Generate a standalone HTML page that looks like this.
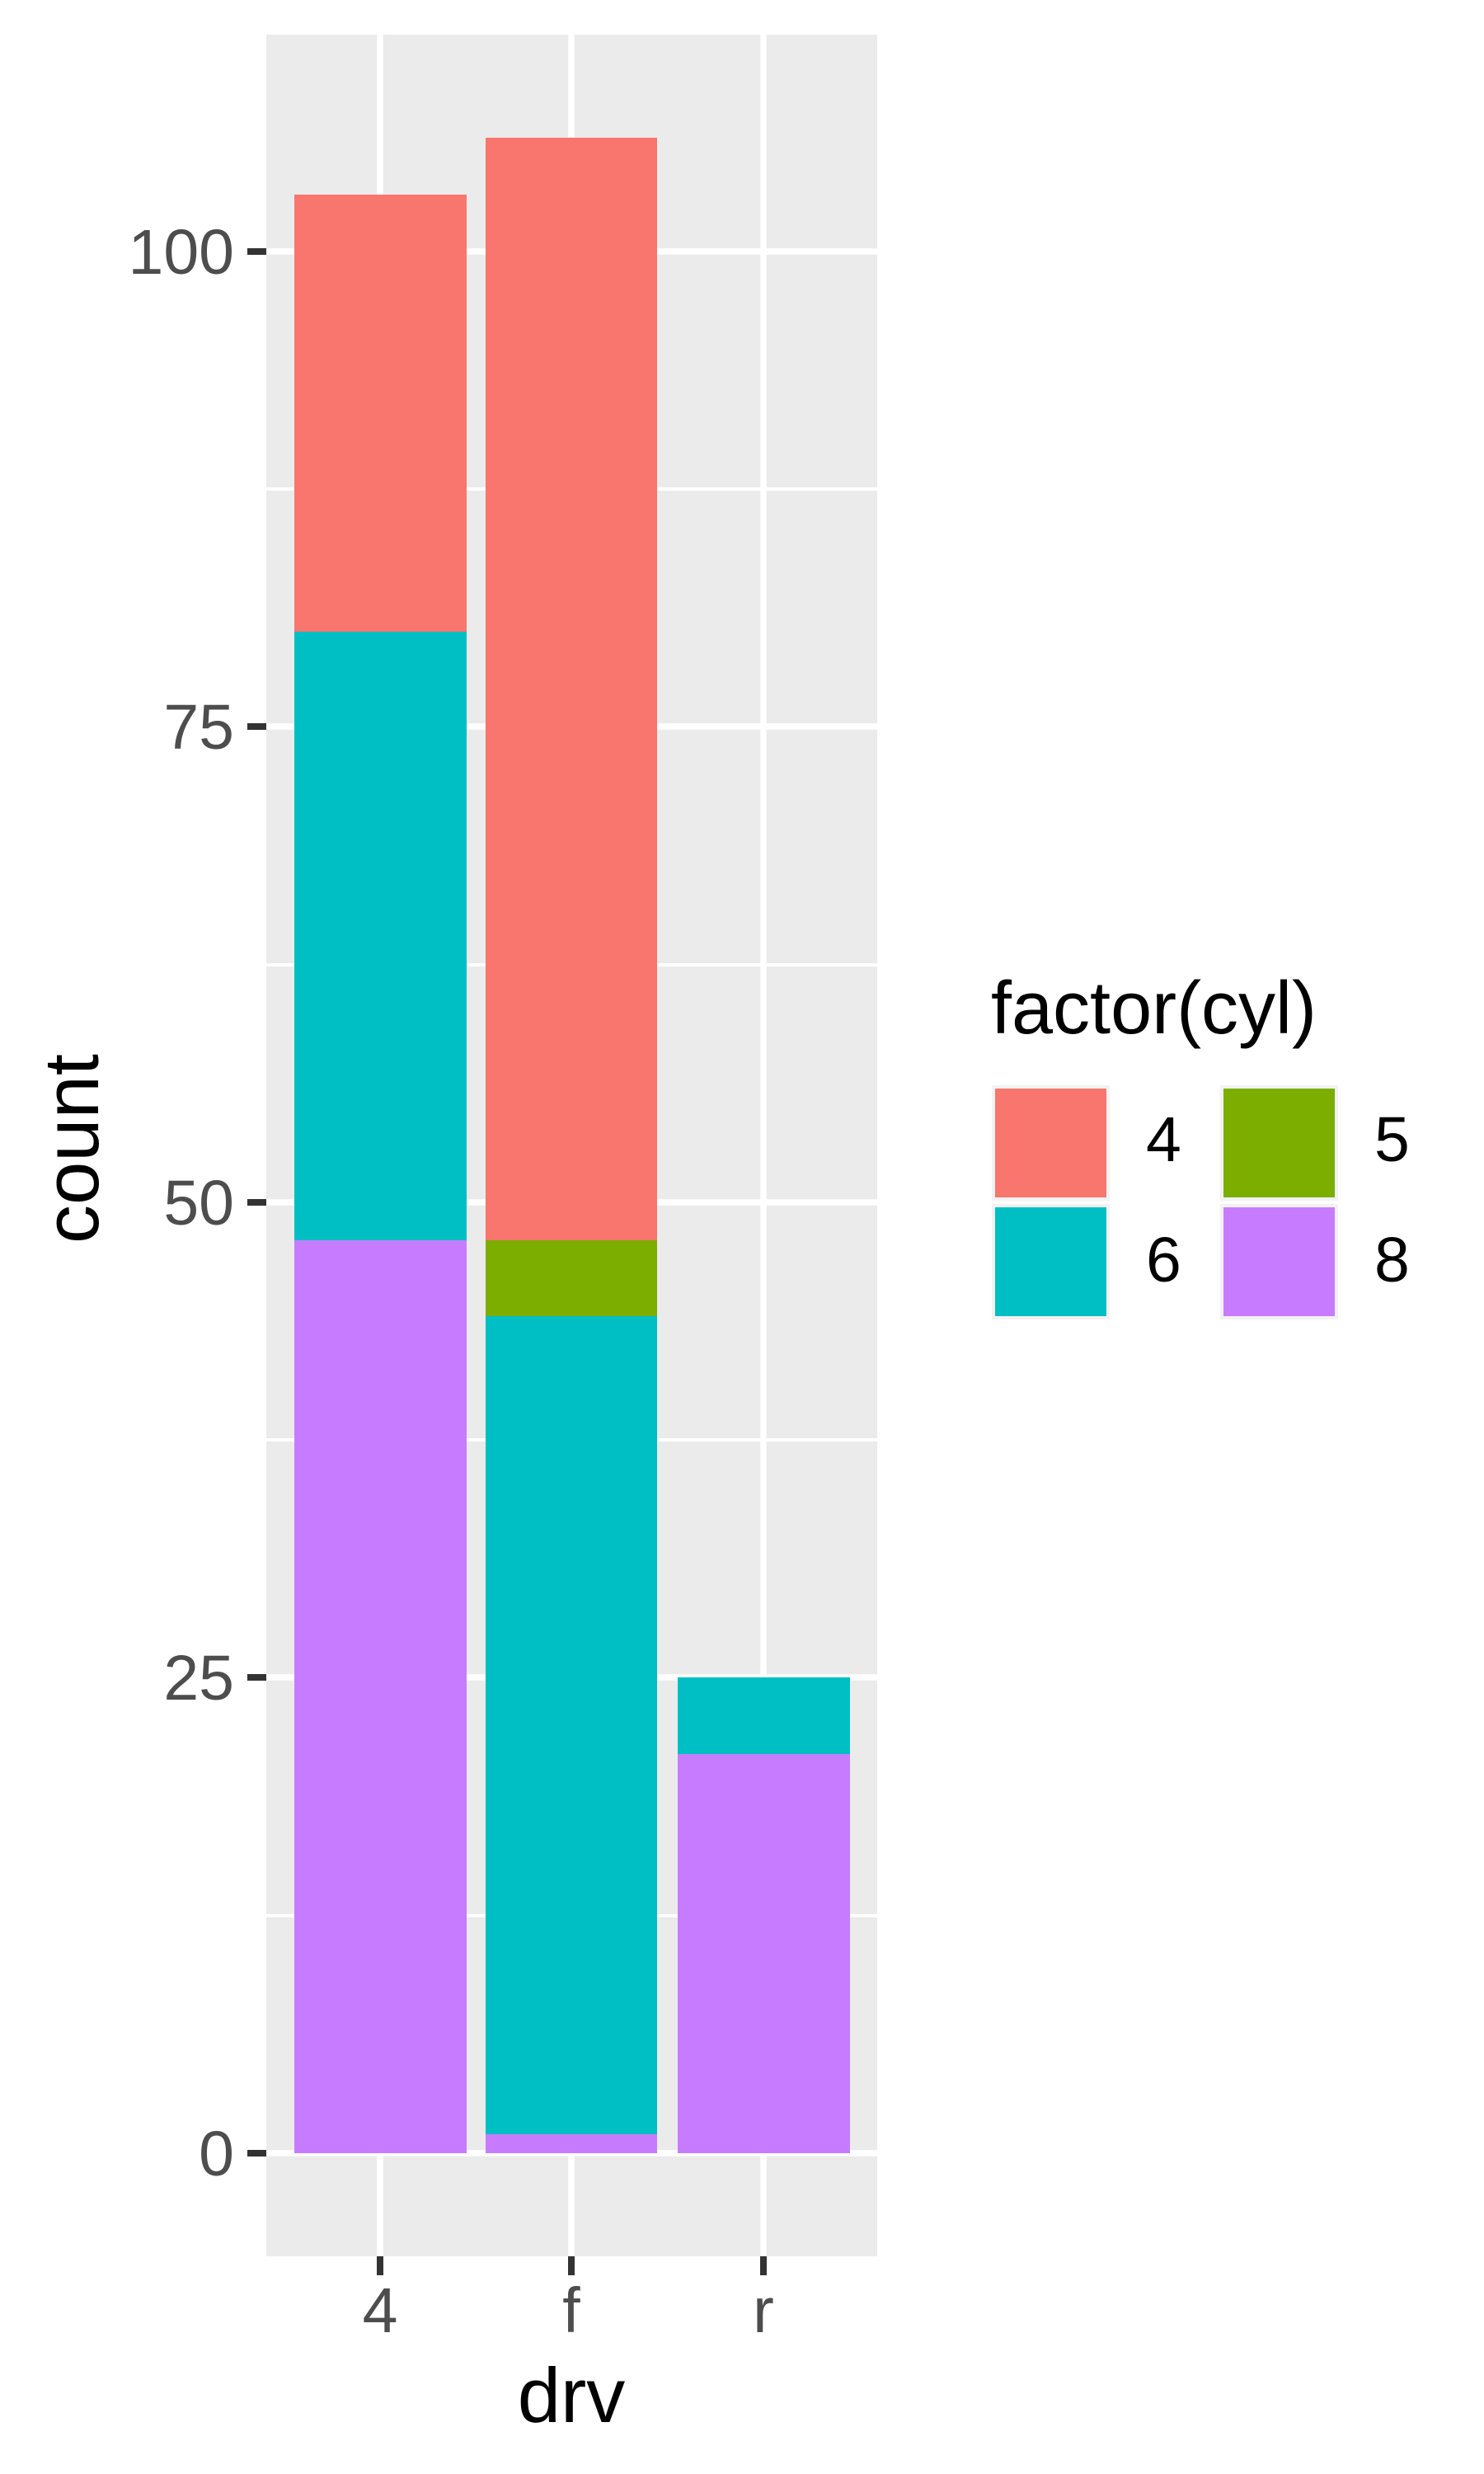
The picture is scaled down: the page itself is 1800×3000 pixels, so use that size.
<!DOCTYPE html>
<html><head><style>html,body{margin:0;padding:0;background:#fff}svg{display:block}</style></head>
<body>
<svg width="1800" height="3000" viewBox="0 0 1800 3000" xmlns="http://www.w3.org/2000/svg" font-family="Liberation Sans, sans-serif">
<rect x="323" y="42" width="741" height="2694" fill="#EBEBEB"/>
<g stroke="#fff" stroke-width="4">
<line x1="323" x2="1064" y1="2323" y2="2323"/>
<line x1="323" x2="1064" y1="1746" y2="1746"/>
<line x1="323" x2="1064" y1="1170" y2="1170"/>
<line x1="323" x2="1064" y1="593" y2="593"/>
</g>
<g stroke="#fff" stroke-width="7.5">
<line x1="323" x2="1064" y1="2611" y2="2611"/>
<line x1="323" x2="1064" y1="2034" y2="2034"/>
<line x1="323" x2="1064" y1="1458" y2="1458"/>
<line x1="323" x2="1064" y1="881" y2="881"/>
<line x1="323" x2="1064" y1="305" y2="305"/>
<line x1="461" x2="461" y1="42" y2="2736"/>
<line x1="693" x2="693" y1="42" y2="2736"/>
<line x1="926" x2="926" y1="42" y2="2736"/>
</g>
<rect x="357" y="1504" width="209" height="1107" fill="#C77CFF"/>
<rect x="357" y="766" width="209" height="738" fill="#00BFC4"/>
<rect x="357" y="236" width="209" height="530" fill="#F8766D"/>
<rect x="589" y="2588" width="208" height="23" fill="#C77CFF"/>
<rect x="589" y="1596" width="208" height="992" fill="#00BFC4"/>
<rect x="589" y="1504" width="208" height="92" fill="#7CAE00"/>
<rect x="589" y="167" width="208" height="1337" fill="#F8766D"/>
<rect x="822" y="2127" width="209" height="484" fill="#C77CFF"/>
<rect x="822" y="2034" width="209" height="93" fill="#00BFC4"/>
<g stroke="#333" stroke-width="8">
<line x1="300" x2="323" y1="2611" y2="2611"/>
<line x1="300" x2="323" y1="2034" y2="2034"/>
<line x1="300" x2="323" y1="1458" y2="1458"/>
<line x1="300" x2="323" y1="881" y2="881"/>
<line x1="300" x2="323" y1="305" y2="305"/>
<line x1="461" x2="461" y1="2736" y2="2759"/>
<line x1="693" x2="693" y1="2736" y2="2759"/>
<line x1="926" x2="926" y1="2736" y2="2759"/>
</g>
<g fill="#4D4D4D" font-size="77" text-anchor="end">
<text x="284" y="2638">0</text>
<text x="284" y="2061">25</text>
<text x="284" y="1485">50</text>
<text x="284" y="908">75</text>
<text x="284" y="332">100</text>
</g>
<g fill="#4D4D4D" font-size="77" text-anchor="middle">
<text x="461" y="2828">4</text>
<text x="693" y="2828">f</text>
<text x="926" y="2828">r</text>
</g>
<text x="693" y="2937" font-size="94" text-anchor="middle" fill="#000">drv</text>
<text transform="translate(119,1393) rotate(-90)" font-size="94" text-anchor="middle" fill="#000">count</text>
<text x="1202" y="1253" font-size="90" fill="#000">factor(cyl)</text>
<g stroke="#F2F2F2" stroke-width="4">
<rect x="1205" y="1318" width="139" height="136" fill="#F8766D"/>
<rect x="1205" y="1462" width="139" height="136" fill="#00BFC4"/>
<rect x="1482" y="1318" width="139" height="136" fill="#7CAE00"/>
<rect x="1482" y="1462" width="139" height="136" fill="#C77CFF"/>
</g>
<g font-size="77" fill="#000">
<text x="1390" y="1408">4</text>
<text x="1390" y="1554">6</text>
<text x="1667" y="1408">5</text>
<text x="1667" y="1554">8</text>
</g>
</svg>
</body></html>
